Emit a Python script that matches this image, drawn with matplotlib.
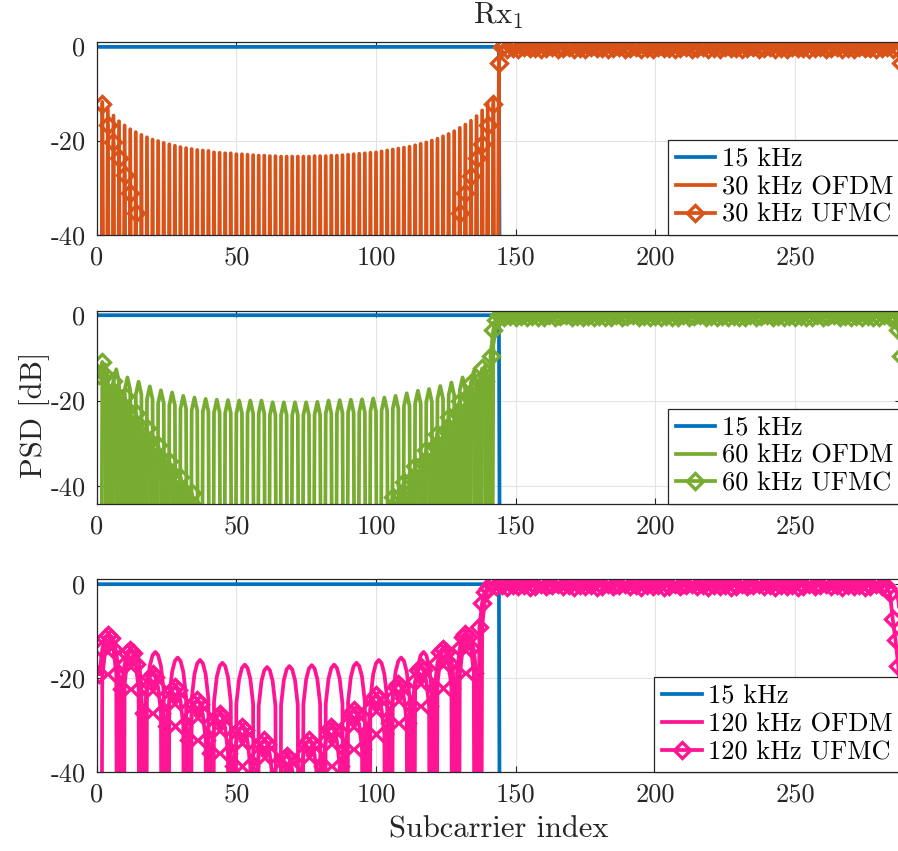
import numpy as np
import matplotlib.pyplot as plt

plt.rcParams.update({
    "font.family": ["cmr10", "DejaVu Serif"],
    "mathtext.fontset": "cm",
    "axes.unicode_minus": False,
    "font.size": 19,
})

# subcarrier grid (15 kHz spacing) and band split
SC = np.arange(1, 289)
BAND_EDGE = 144
NULL_DB = -200.0
PSD_15_DB = -0.1

# sidelobe shape around a lobe peak, dB relative to the peak
PROFILE_30 = [0.0]
PROFILE_60 = [-3.0, 0.0, -3.0]
PROFILE_120 = [-8.3, -3.0, -0.7, 0.0, -0.7, -3.0, -8.3]

# in-band ripple (dB)
RIPPLE_OFDM = [-0.3, 0.1, -0.4, 0.0, -0.2, 0.2, -0.5, 0.0, -0.1, 0.1, -0.3, 0.1]
RIPPLE_UFMC = [-0.1, 0.3, -0.5, 0.2, -0.3, 0.4, -0.6, 0.1, -0.2, 0.3, -0.4, 0.1,
               -0.3, 0.4, -0.6, 0.2, -0.4, 0.3, -0.1, 0.4, -0.5, 0.0, -0.3, 0.3]

# ---- 30 kHz numerology ----
OFDM30_SC = list(range(2, 143, 2))
OFDM30_PEAKS = [-11.8, -13.3, -14.7, -15.9, -16.8, -17.6, -18.2, -18.8, -19.3, -19.8,
                -20.1, -20.5, -20.8, -21.1, -21.4, -21.6, -21.8, -22.0, -22.1, -22.2,
                -22.5, -22.6, -22.7, -22.7, -22.9, -22.9, -23.0, -23.1, -23.2, -23.2,
                -23.3, -23.3, -23.4, -23.4, -23.4, -23.4,
                -23.4, -23.4, -23.3, -23.3, -23.3, -23.2, -23.2, -23.1, -23.0, -22.9,
                -22.8, -22.7, -22.6, -22.5, -22.3, -22.1, -21.9, -21.7, -21.5, -21.3,
                -21.0, -20.7, -20.4, -20.0, -19.6, -19.1, -18.6, -18.0, -17.3, -16.6,
                -15.8, -14.8, -13.6, -12.3, -11.0]
UFMC30_SC = [2, 4, 6, 8, 10, 12, 14, 130, 132, 134, 136, 138, 140, 142]
UFMC30_PEAKS = [-12.2, -16.8, -20.4, -23.8, -27.4, -31.2, -35.3,
                -35.3, -31.2, -27.5, -23.8, -20.7, -16.8, -12.3]
OFDM30_EDGES = ([-3.0], [-3.0])
UFMC30_EDGES = ([-3.6], [-3.6])

# ---- 60 kHz numerology ----
OFDM60_SC = list(range(3, 140, 4))
OFDM60_PEAKS = [-11.5, -12.7, -14.6, -15.6, -16.7, -17.6, -18.1, -18.9, -19.3, -19.6,
                -19.8, -19.9, -20.0, -20.0, -20.0, -20.4, -20.4, -20.4, -20.4, -20.3,
                -20.0, -19.9, -19.8, -19.7, -19.5, -19.3, -18.9, -18.3, -17.7, -17.3,
                -16.6, -15.8, -14.6, -13.1, -11.9]
UFMC60_SC = [2, 6, 10, 14, 18, 22, 26, 30, 34,
             106, 110, 114, 118, 122, 126, 130, 134, 138]
UFMC60_PEAKS = [-11.0, -15.5, -19.0, -22.8, -26.5, -30.3, -34.0, -37.8, -41.5,
                -42.5, -39.0, -35.3, -31.5, -27.7, -23.8, -20.0, -16.0, -12.5]
OFDM60_EDGES = ([-7.0, -2.5, -0.8], [-0.8, -2.5, -7.0])
UFMC60_EDGES = ([-9.6, -3.5, -1.2], [-1.2, -3.5, -9.6])

# ---- 120 kHz numerology ----
OFDM120_SC = list(range(5, 134, 8))
OFDM120_PEAKS = [-11.5, -13.0, -14.5, -15.7, -16.2, -16.8, -17.2, -17.7, -17.5,
                 -17.3, -17.2, -16.8, -16.2, -15.7, -14.5, -13.0, -11.0]
UFMC120_SC = list(range(4, 133, 8))
UFMC120_PEAKS = [-10.9, -14.1, -19.1, -21.9, -24.8, -27.6, -30.4, -33.3, -36.5,
                 -33.3, -30.4, -26.9, -23.7, -21.2, -17.7, -13.8, -10.6]
OFDM120_EDGES = ([-9.0, -3.5, -1.0], [-1.0, -3.5, -9.0])
UFMC120_EDGES = ([-9.3, -4.0, -1.7, -1.0], [-1.0, -2.0, -7.5, -12.0, -17.5, -26.0])

BLUE = "#0072BD"
COLORS = {"30": "#D95319", "60": "#77AC30", "120": "#FF1493"}
LW = 2.7


def psd(centers, peaks, profile, band_start, edges, ripple):
    """Sidelobes outside the band, ripple plus roll-off inside it."""
    y = np.full(SC.size, NULL_DB)
    half = len(profile) // 2
    for c, p in zip(centers, peaks):
        for k, d in enumerate(profile):
            i = c + k - half
            if 1 <= i < band_start:
                y[i - 1] = max(y[i - 1], p + d)
    left, right = edges
    n = SC.size - band_start + 1 - len(left) - len(right)
    y[band_start - 1:] = np.concatenate([left, np.resize(ripple, n), right])
    return y


psd_15 = np.where(SC <= BAND_EDGE, PSD_15_DB, NULL_DB)

panels = [
    ("30", psd(OFDM30_SC, OFDM30_PEAKS, PROFILE_30, 144, OFDM30_EDGES, RIPPLE_OFDM),
           psd(UFMC30_SC, UFMC30_PEAKS, PROFILE_30, 144, UFMC30_EDGES, RIPPLE_UFMC),
     (-40, 1)),
    ("60", psd(OFDM60_SC, OFDM60_PEAKS, PROFILE_60, 142, OFDM60_EDGES, RIPPLE_OFDM),
           psd(UFMC60_SC, UFMC60_PEAKS, PROFILE_60, 141, UFMC60_EDGES, RIPPLE_UFMC),
     (-44, 1)),
    ("120", psd(OFDM120_SC, OFDM120_PEAKS, PROFILE_120, 138, OFDM120_EDGES, RIPPLE_OFDM),
            psd(UFMC120_SC, UFMC120_PEAKS, PROFILE_120, 137, UFMC120_EDGES, RIPPLE_UFMC),
     (-40, 1)),
]

W, H = 898, 851
fig = plt.figure(figsize=(W / 100, H / 100), dpi=100)
ax_left, ax_w, ax_h = 96.7, 804.4, 193.0
tops = [41.7, 310.5, 579.0]

axes = []
for top, (num, ofdm, ufmc, ylim) in zip(tops, panels):
    ax = fig.add_axes([ax_left / W, (H - top - ax_h) / H, ax_w / W, ax_h / H])
    color = COLORS[num]
    ax.plot(SC, psd_15, color=BLUE, lw=LW, label="15 kHz")
    ax.plot(SC, ofdm, color=color, lw=LW, label=f"{num} kHz OFDM")
    ax.plot(SC, ufmc, color=color, lw=LW, marker="D", ms=8, mew=2.4,
            mfc="none", label=f"{num} kHz UFMC")
    ax.set_xlim(0, 288)
    ax.set_ylim(*ylim)
    ax.set_xticks(range(0, 251, 50))
    ax.set_yticks([-40, -20, 0])
    ax.grid(True, color="#e3e3e3", lw=0.8)
    ax.set_axisbelow(True)
    for s in ax.spines.values():
        s.set_color("#262626")
        s.set_linewidth(0.9)
    ax.tick_params(direction="in", top=True, right=True, length=4, width=0.8,
                   color="#262626", labelcolor="#262626", pad=8)
    leg = ax.legend(loc="lower right", bbox_to_anchor=(1, 0), borderaxespad=0,
                    fancybox=False, framealpha=1, edgecolor="#262626",
                    handlelength=1.5, handletextpad=0.25, labelspacing=0.15,
                    borderpad=0.3, fontsize=19)
    leg.get_frame().set_linewidth(0.9)
    axes.append(ax)

fig.text((ax_left + ax_w / 2) / W, 1 - 16 / H, r"Rx$_1$", ha="center", va="center",
         fontsize=22, color="#262626")
fig.text(35 / W, 1 - 415 / H, "PSD [dB]", rotation=90, ha="center", va="center",
         fontsize=22, color="#262626")
fig.text((ax_left + ax_w / 2) / W, 1 - 830 / H, "Subcarrier index", ha="center",
         va="center", fontsize=22, color="#262626")

fig.savefig("out.png", dpi=100)
